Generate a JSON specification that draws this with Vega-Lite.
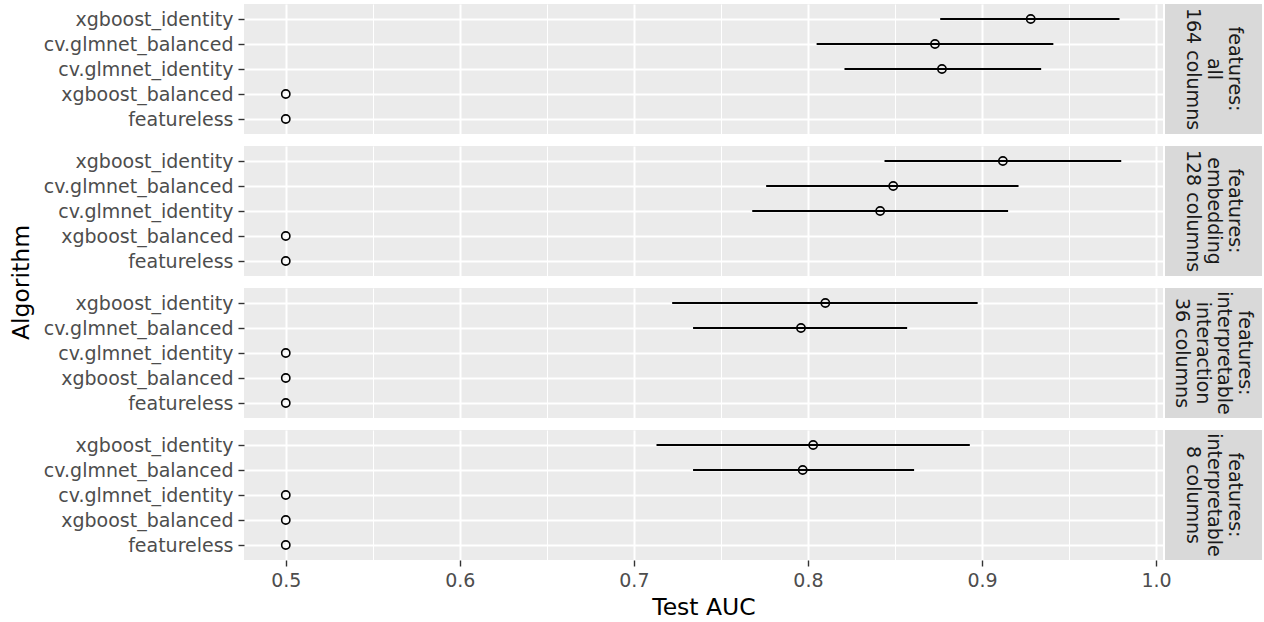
{
  "$schema": "https://vega.github.io/schema/vega-lite/v6.json",
  "padding": {"top": 4, "left": 9, "right": 0, "bottom": 0},
  "datasets": {
    "results": [
      {"panel": "all", "algorithm": "xgboost_identity", "auc": 0.928, "lo": 0.876, "hi": 0.979},
      {"panel": "all", "algorithm": "cv.glmnet_balanced", "auc": 0.873, "lo": 0.805, "hi": 0.941},
      {"panel": "all", "algorithm": "cv.glmnet_identity", "auc": 0.877, "lo": 0.821, "hi": 0.934},
      {"panel": "all", "algorithm": "xgboost_balanced", "auc": 0.5, "lo": null, "hi": null},
      {"panel": "all", "algorithm": "featureless", "auc": 0.5, "lo": null, "hi": null},
      {"panel": "embedding", "algorithm": "xgboost_identity", "auc": 0.912, "lo": 0.844, "hi": 0.98},
      {"panel": "embedding", "algorithm": "cv.glmnet_balanced", "auc": 0.849, "lo": 0.776, "hi": 0.921},
      {"panel": "embedding", "algorithm": "cv.glmnet_identity", "auc": 0.8415, "lo": 0.768, "hi": 0.915},
      {"panel": "embedding", "algorithm": "xgboost_balanced", "auc": 0.5, "lo": null, "hi": null},
      {"panel": "embedding", "algorithm": "featureless", "auc": 0.5, "lo": null, "hi": null},
      {"panel": "interaction", "algorithm": "xgboost_identity", "auc": 0.81, "lo": 0.722, "hi": 0.8975},
      {"panel": "interaction", "algorithm": "cv.glmnet_balanced", "auc": 0.796, "lo": 0.734, "hi": 0.857},
      {"panel": "interaction", "algorithm": "cv.glmnet_identity", "auc": 0.5, "lo": null, "hi": null},
      {"panel": "interaction", "algorithm": "xgboost_balanced", "auc": 0.5, "lo": null, "hi": null},
      {"panel": "interaction", "algorithm": "featureless", "auc": 0.5, "lo": null, "hi": null},
      {"panel": "interpretable", "algorithm": "xgboost_identity", "auc": 0.803, "lo": 0.713, "hi": 0.893},
      {"panel": "interpretable", "algorithm": "cv.glmnet_balanced", "auc": 0.797, "lo": 0.734, "hi": 0.861},
      {"panel": "interpretable", "algorithm": "cv.glmnet_identity", "auc": 0.5, "lo": null, "hi": null},
      {"panel": "interpretable", "algorithm": "xgboost_balanced", "auc": 0.5, "lo": null, "hi": null},
      {"panel": "interpretable", "algorithm": "featureless", "auc": 0.5, "lo": null, "hi": null}
    ],
    "panels": [
      {"panel": "all", "label": "features:\nall\n164 columns"},
      {"panel": "embedding", "label": "features:\nembedding\n128 columns"},
      {"panel": "interaction", "label": "features:\ninterpretable\ninteraction\n36 columns"},
      {"panel": "interpretable", "label": "features:\ninterpretable\n8 columns"}
    ]
  },
  "data": {"name": "results"},
  "spacing": 6,
  "resolve": {"scale": {"x": "independent", "y": "independent"}, "axis": {"x": "independent", "y": "independent"}},
  "hconcat": [
    {
      "width": 1, "height": 556,
      "view": {"fill": null, "stroke": null},
      "mark": {"type": "point", "opacity": 0},
      "encoding": {"y": {"field": "algorithm", "type": "nominal", "axis": {"title": "Algorithm", "labels": false, "ticks": false, "grid": false, "domain": false, "titlePadding": 0}}}
    },
    {
      "spacing": 12,
      "resolve": {"scale": {"x": "independent", "y": "independent"}, "axis": {"x": "independent", "y": "independent"}},
      "vconcat": [
        {
          "bounds": "flush", "spacing": 2,
          "hconcat": [
            {
              "width": 919, "height": 130,
              "transform": [{"filter": "datum.panel == 'all'"}],
              "encoding": {"y": {"field": "algorithm", "type": "nominal", "sort": ["xgboost_identity", "cv.glmnet_balanced", "cv.glmnet_identity", "xgboost_balanced", "featureless"], "scale": {"type": "point", "padding": 0.6}, "axis": {"title": null, "grid": true, "gridWidth": 2, "labelOverlap": false}}},
              "layer": [
                {"transform": [{"filter": "isValid(datum.lo)"}], "mark": {"type": "rule", "color": "black", "strokeWidth": 2},
                 "encoding": {"x": {"field": "lo", "type": "quantitative", "scale": {"domain": [0.476, 1.004], "nice": false, "zero": false}, "axis": {"values": [0.5, 0.55, 0.6, 0.65, 0.7, 0.75, 0.8, 0.85, 0.9, 0.95, 1.0], "labels": false, "ticks": false, "title": null, "grid": true, "gridWidth": {"condition": {"test": "round(datum.value*100) % 10 != 0", "value": 1}, "value": 2}}}, "x2": {"field": "hi"}}},
                {"mark": {"type": "point", "shape": "circle", "filled": false, "color": "black", "size": 68, "strokeWidth": 1.6, "opacity": 1},
                 "encoding": {"x": {"field": "auc", "type": "quantitative", "scale": {"domain": [0.476, 1.004], "nice": false, "zero": false}, "axis": {"values": [0.5, 0.55, 0.6, 0.65, 0.7, 0.75, 0.8, 0.85, 0.9, 0.95, 1.0], "labels": false, "ticks": false, "title": null, "grid": true, "gridWidth": {"condition": {"test": "round(datum.value*100) % 10 != 0", "value": 1}, "value": 2}}}}}
              ]
            },
            {
              "width": 97, "height": 130,
              "view": {"fill": "#d9d9d9", "stroke": null},
              "data": {"name": "panels"},
              "transform": [{"filter": "datum.panel == 'all'"}],
              "mark": {"type": "text", "angle": 90, "lineBreak": "\n", "fontSize": 19, "lineHeight": 21, "color": "#1a1a1a", "align": "center", "baseline": "middle", "dy": {"expr": "-(length(split(datum.label, '\\n')) - 1) * 10.5"}},
              "encoding": {"text": {"field": "label"}}
            }
          ]
        },
        {
          "bounds": "flush", "spacing": 2,
          "hconcat": [
            {
              "width": 919, "height": 130,
              "transform": [{"filter": "datum.panel == 'embedding'"}],
              "encoding": {"y": {"field": "algorithm", "type": "nominal", "sort": ["xgboost_identity", "cv.glmnet_balanced", "cv.glmnet_identity", "xgboost_balanced", "featureless"], "scale": {"type": "point", "padding": 0.6}, "axis": {"title": null, "grid": true, "gridWidth": 2, "labelOverlap": false}}},
              "layer": [
                {"transform": [{"filter": "isValid(datum.lo)"}], "mark": {"type": "rule", "color": "black", "strokeWidth": 2},
                 "encoding": {"x": {"field": "lo", "type": "quantitative", "scale": {"domain": [0.476, 1.004], "nice": false, "zero": false}, "axis": {"values": [0.5, 0.55, 0.6, 0.65, 0.7, 0.75, 0.8, 0.85, 0.9, 0.95, 1.0], "labels": false, "ticks": false, "title": null, "grid": true, "gridWidth": {"condition": {"test": "round(datum.value*100) % 10 != 0", "value": 1}, "value": 2}}}, "x2": {"field": "hi"}}},
                {"mark": {"type": "point", "shape": "circle", "filled": false, "color": "black", "size": 68, "strokeWidth": 1.6, "opacity": 1},
                 "encoding": {"x": {"field": "auc", "type": "quantitative", "scale": {"domain": [0.476, 1.004], "nice": false, "zero": false}, "axis": {"values": [0.5, 0.55, 0.6, 0.65, 0.7, 0.75, 0.8, 0.85, 0.9, 0.95, 1.0], "labels": false, "ticks": false, "title": null, "grid": true, "gridWidth": {"condition": {"test": "round(datum.value*100) % 10 != 0", "value": 1}, "value": 2}}}}}
              ]
            },
            {
              "width": 97, "height": 130,
              "view": {"fill": "#d9d9d9", "stroke": null},
              "data": {"name": "panels"},
              "transform": [{"filter": "datum.panel == 'embedding'"}],
              "mark": {"type": "text", "angle": 90, "lineBreak": "\n", "fontSize": 19, "lineHeight": 21, "color": "#1a1a1a", "align": "center", "baseline": "middle", "dy": {"expr": "-(length(split(datum.label, '\\n')) - 1) * 10.5"}},
              "encoding": {"text": {"field": "label"}}
            }
          ]
        },
        {
          "bounds": "flush", "spacing": 2,
          "hconcat": [
            {
              "width": 919, "height": 130,
              "transform": [{"filter": "datum.panel == 'interaction'"}],
              "encoding": {"y": {"field": "algorithm", "type": "nominal", "sort": ["xgboost_identity", "cv.glmnet_balanced", "cv.glmnet_identity", "xgboost_balanced", "featureless"], "scale": {"type": "point", "padding": 0.6}, "axis": {"title": null, "grid": true, "gridWidth": 2, "labelOverlap": false}}},
              "layer": [
                {"transform": [{"filter": "isValid(datum.lo)"}], "mark": {"type": "rule", "color": "black", "strokeWidth": 2},
                 "encoding": {"x": {"field": "lo", "type": "quantitative", "scale": {"domain": [0.476, 1.004], "nice": false, "zero": false}, "axis": {"values": [0.5, 0.55, 0.6, 0.65, 0.7, 0.75, 0.8, 0.85, 0.9, 0.95, 1.0], "labels": false, "ticks": false, "title": null, "grid": true, "gridWidth": {"condition": {"test": "round(datum.value*100) % 10 != 0", "value": 1}, "value": 2}}}, "x2": {"field": "hi"}}},
                {"mark": {"type": "point", "shape": "circle", "filled": false, "color": "black", "size": 68, "strokeWidth": 1.6, "opacity": 1},
                 "encoding": {"x": {"field": "auc", "type": "quantitative", "scale": {"domain": [0.476, 1.004], "nice": false, "zero": false}, "axis": {"values": [0.5, 0.55, 0.6, 0.65, 0.7, 0.75, 0.8, 0.85, 0.9, 0.95, 1.0], "labels": false, "ticks": false, "title": null, "grid": true, "gridWidth": {"condition": {"test": "round(datum.value*100) % 10 != 0", "value": 1}, "value": 2}}}}}
              ]
            },
            {
              "width": 97, "height": 130,
              "view": {"fill": "#d9d9d9", "stroke": null},
              "data": {"name": "panels"},
              "transform": [{"filter": "datum.panel == 'interaction'"}],
              "mark": {"type": "text", "angle": 90, "lineBreak": "\n", "fontSize": 19, "lineHeight": 21, "color": "#1a1a1a", "align": "center", "baseline": "middle", "dy": {"expr": "-(length(split(datum.label, '\\n')) - 1) * 10.5"}},
              "encoding": {"text": {"field": "label"}}
            }
          ]
        },
        {
          "bounds": "flush", "spacing": 2,
          "hconcat": [
            {
              "width": 919, "height": 130,
              "transform": [{"filter": "datum.panel == 'interpretable'"}],
              "encoding": {"y": {"field": "algorithm", "type": "nominal", "sort": ["xgboost_identity", "cv.glmnet_balanced", "cv.glmnet_identity", "xgboost_balanced", "featureless"], "scale": {"type": "point", "padding": 0.6}, "axis": {"title": null, "grid": true, "gridWidth": 2, "labelOverlap": false}}},
              "layer": [
                {"transform": [{"filter": "isValid(datum.lo)"}], "mark": {"type": "rule", "color": "black", "strokeWidth": 2},
                 "encoding": {"x": {"field": "lo", "type": "quantitative", "scale": {"domain": [0.476, 1.004], "nice": false, "zero": false}, "axis": {"values": [0.5, 0.55, 0.6, 0.65, 0.7, 0.75, 0.8, 0.85, 0.9, 0.95, 1.0], "title": "Test AUC", "titlePadding": 5, "labelExpr": "round(datum.value*100) % 10 != 0 ? '' : format(datum.value, '.1f')", "labelFlush": false, "labelOverlap": false, "tickColor": {"condition": {"test": "round(datum.value*100) % 10 != 0", "value": "transparent"}, "value": "#333333"}, "grid": true, "gridWidth": {"condition": {"test": "round(datum.value*100) % 10 != 0", "value": 1}, "value": 2}}}, "x2": {"field": "hi"}}},
                {"mark": {"type": "point", "shape": "circle", "filled": false, "color": "black", "size": 68, "strokeWidth": 1.6, "opacity": 1},
                 "encoding": {"x": {"field": "auc", "type": "quantitative", "scale": {"domain": [0.476, 1.004], "nice": false, "zero": false}, "axis": {"values": [0.5, 0.55, 0.6, 0.65, 0.7, 0.75, 0.8, 0.85, 0.9, 0.95, 1.0], "title": "Test AUC", "titlePadding": 5, "labelExpr": "round(datum.value*100) % 10 != 0 ? '' : format(datum.value, '.1f')", "labelFlush": false, "labelOverlap": false, "tickColor": {"condition": {"test": "round(datum.value*100) % 10 != 0", "value": "transparent"}, "value": "#333333"}, "grid": true, "gridWidth": {"condition": {"test": "round(datum.value*100) % 10 != 0", "value": 1}, "value": 2}}}}}
              ]
            },
            {
              "width": 97, "height": 130,
              "view": {"fill": "#d9d9d9", "stroke": null},
              "data": {"name": "panels"},
              "transform": [{"filter": "datum.panel == 'interpretable'"}],
              "mark": {"type": "text", "angle": 90, "lineBreak": "\n", "fontSize": 19, "lineHeight": 21, "color": "#1a1a1a", "align": "center", "baseline": "middle", "dy": {"expr": "-(length(split(datum.label, '\\n')) - 1) * 10.5"}},
              "encoding": {"text": {"field": "label"}}
            }
          ]
        }
      ]
    }
  ],
  "config": {
    "font": "DejaVu Sans",
    "background": "white",
    "view": {"fill": "#ebebeb", "stroke": null},
    "axis": {"domain": false, "gridColor": "white", "tickColor": "#333333", "tickSize": 6, "tickWidth": 1.4, "labelPadding": 5, "labelLimit": 0, "labelColor": "#4d4d4d", "labelFontSize": 19, "labelFont": "DejaVu Sans", "titleFont": "DejaVu Sans", "titleFontSize": 23.5, "titleFontWeight": "normal", "titleColor": "black"}
  }
}
